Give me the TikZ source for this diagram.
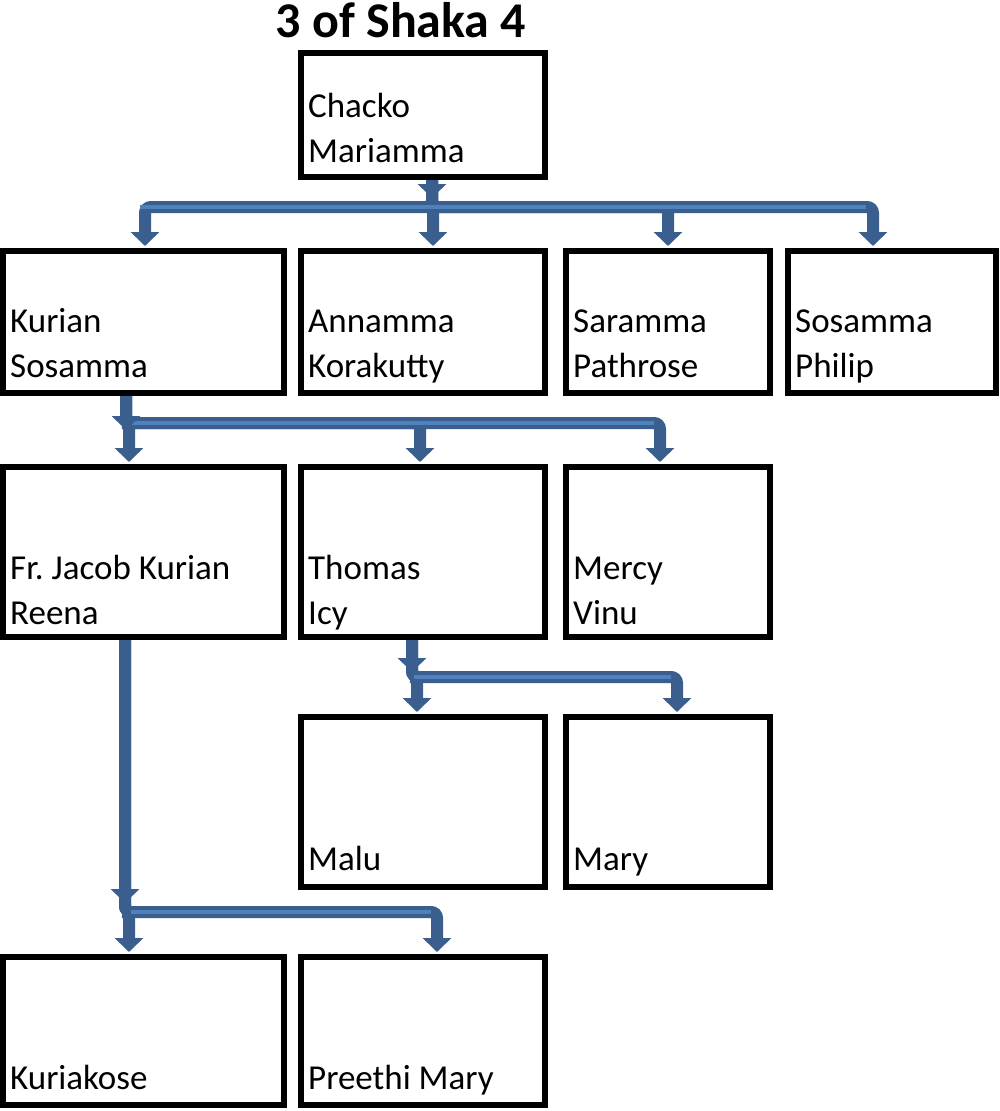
\documentclass[tikz,border=0pt]{standalone}
\usepackage{fontspec}
\setmainfont{Carlito}
\usepackage{xcolor}
\usepackage{tikz}
\usetikzlibrary{arrows.meta}
\definecolor{linkdark}{HTML}{3A5E8E}
\definecolor{linklight}{HTML}{4F81BD}
\frenchspacing

\begin{document}
\begin{tikzpicture}[x=1pt,y=-1pt,
  box/.style={draw,line width=6pt,inner sep=0pt},
  who/.style={anchor=base west,align=left,inner sep=0pt,font=\fontsize{35}{45}\selectfont},
  link/.style={draw=linkdark,line width=12pt,rounded corners=6pt,shorten >=2pt,-{Triangle[width=28pt,length=14pt]}},
  stub/.style={draw=linkdark,line width=12pt,-{Triangle[width=28pt,length=14pt]}},
  stripe/.style={draw=linklight,line width=4pt}]
\useasboundingbox (0,0) rectangle (1000,1111);

\node[font=\fontsize{50}{56}\selectfont\bfseries,anchor=base] (title) at (401,37) {3 of Shaka 4};

\node[box,minimum width=244pt,minimum height=124pt] (chacko) at (423,115) {};
\node[who] (chacko-t) at (308,162) {Chacko\\Mariamma};

\node[box,minimum width=281pt,minimum height=142pt] (kurian) at (143.5,322) {};
\node[who] (kurian-t) at (10,377) {Kurian\\Sosamma};
\node[box,minimum width=244pt,minimum height=142pt] (annamma) at (423,322) {};
\node[who] (annamma-t) at (308,377) {Annamma\\Korakutty};
\node[box,minimum width=204pt,minimum height=142pt] (saramma) at (668,322) {};
\node[who] (saramma-t) at (573,377) {Saramma\\Pathrose};
\node[box,minimum width=208pt,minimum height=142pt] (sosamma) at (892,322) {};
\node[who] (sosamma-t) at (795,377) {Sosamma\\Philip};

\node[box,minimum width=281pt,minimum height=170pt] (frjacob) at (143.5,552) {};
\node[who] (frjacob-t) at (10,624) {Fr. Jacob Kurian\\Reena};
\node[box,minimum width=244pt,minimum height=170pt] (thomas) at (423,552) {};
\node[who] (thomas-t) at (308,624) {Thomas\\Icy};
\node[box,minimum width=204pt,minimum height=170pt] (mercy) at (668,552) {};
\node[who] (mercy-t) at (573,624) {Mercy\\Vinu};

\node[box,minimum width=244pt,minimum height=170pt] (malu) at (423,802) {};
\node[who] (malu-t) at (308,870) {Malu};
\node[box,minimum width=204pt,minimum height=170pt] (mary) at (668,802) {};
\node[who] (mary-t) at (573,870) {Mary};

\node[box,minimum width=281pt,minimum height=148pt] (kuriakose) at (143.5,1031) {};
\node[who] (kuriakose-t) at (10,1089) {Kuriakose};
\node[box,minimum width=244pt,minimum height=148pt] (preethi) at (423,1031) {};
\node[who] (preethi-t) at (308,1089) {Preethi Mary};

\coordinate (bar1a) at (140,207);
\coordinate (bar1b) at (866,207);
\coordinate (bar2a) at (132,423);
\coordinate (bar2b) at (654,423);
\coordinate (bar3a) at (414,677);
\coordinate (bar3b) at (671,677);
\coordinate (bar4a) at (131,912);
\coordinate (bar4b) at (431,912);

\draw[link] ([xshift=9pt]chacko.south) -- ++(0,27) -| ([xshift=1.5pt]kurian.north);
\draw[link] ([xshift=9pt]chacko.south) -- ++(0,27) -| ([xshift=10pt]annamma.north);
\draw[link] ([xshift=9pt]chacko.south) -- ++(0,27) -| (saramma.north);
\draw[link] ([xshift=9pt]chacko.south) -- ++(0,27) -| ([xshift=-19pt]sosamma.north);

\draw[link] ([xshift=-17.5pt]kurian.south) -- ++(0,27) -| ([xshift=-14.5pt]frjacob.north);
\draw[link] ([xshift=-17.5pt]kurian.south) -- ++(0,27) -| ([xshift=-3pt]thomas.north);
\draw[link] ([xshift=-17.5pt]kurian.south) -- ++(0,27) -| ([xshift=-8pt]mercy.north);

\draw[link] ([xshift=-11pt]thomas.south) -- ++(0,37) -| ([xshift=-6pt]malu.north);
\draw[link] ([xshift=-11pt]thomas.south) -- ++(0,37) -| ([xshift=9pt]mary.north);

\draw[link] ([xshift=-18.5pt]frjacob.south) -- ++(0,272) -| ([xshift=-14.5pt]kuriakose.north);
\draw[link] ([xshift=-18.5pt]frjacob.south) -- ++(0,272) -| ([xshift=14pt]preethi.north);

\draw[stripe] (bar1a) -- (bar1b);
\draw[stripe] (bar2a) -- (bar2b);
\draw[stripe] (bar3a) -- (bar3b);
\draw[stripe] (bar4a) -- (bar4b);

\draw[stub] ([xshift=9pt]chacko.south) -- ++(0,18);
\draw[stub] ([xshift=-17.5pt]kurian.south) -- ++(0,34);
\draw[stub] ([xshift=-11pt]thomas.south) -- ++(0,32);
\draw[stub] ([xshift=-18.5pt]frjacob.south) -- ++(0,263);
\end{tikzpicture}
\end{document}
